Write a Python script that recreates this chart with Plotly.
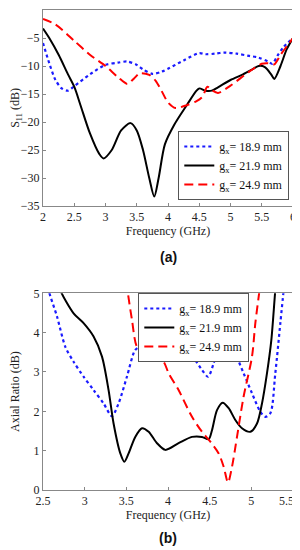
import plotly.graph_objects as go

# ---- (a) S11 data ----
s11_f_189 = [2.0, 2.1, 2.2, 2.3, 2.4, 2.5, 2.75, 3.0, 3.2, 3.35, 3.5, 3.6, 3.75, 3.9, 4.0, 4.25, 4.5, 4.6, 4.75, 4.9, 5.1, 5.3, 5.45, 5.6, 5.67, 5.75, 5.85, 6.0]
s11_v_189 = [-5.9, -9.5, -12.5, -14.0, -14.4, -13.6, -11.5, -9.8, -9.4, -9.2, -9.8, -10.6, -11.4, -11.0, -10.5, -9.0, -7.7, -7.9, -7.8, -7.6, -7.8, -8.2, -8.5, -9.2, -9.6, -8.2, -6.6, -5.0]

s11_f_219 = [2.0, 2.1, 2.25, 2.4, 2.5, 2.6, 2.75, 2.9, 2.97, 3.1, 3.25, 3.4, 3.5, 3.6, 3.7, 3.78, 3.85, 3.95, 4.1, 4.3, 4.45, 4.5, 4.6, 4.7, 4.8, 5.0, 5.2, 5.35, 5.45, 5.55, 5.65, 5.7, 5.8, 5.9, 6.0]
s11_v_219 = [-3.3, -5.0, -8.0, -11.5, -13.7, -17.0, -22.0, -25.7, -26.5, -25.0, -21.5, -20.2, -21.5, -25.0, -30.0, -33.3, -30.0, -24.0, -20.5, -17.0, -14.5, -14.0, -14.4, -14.4, -13.8, -12.5, -11.5, -10.6, -10.0, -10.2, -11.5, -12.3, -10.0, -7.0, -5.0]

s11_f_249 = [2.0, 2.2, 2.5, 2.75, 3.0, 3.2, 3.35, 3.45, 3.55, 3.7, 3.8, 3.9, 4.0, 4.12, 4.3, 4.45, 4.55, 4.63, 4.7, 4.8, 5.0, 5.3, 5.5, 5.6, 5.7, 5.8, 5.9, 6.0]
s11_v_249 = [-1.6, -2.6, -5.5, -8.0, -10.0, -12.0, -13.2, -12.3, -11.3, -11.6, -12.6, -14.5, -16.5, -17.5, -17.0, -16.3, -15.5, -13.7, -14.3, -14.8, -13.5, -11.0, -9.6, -9.5, -9.7, -8.0, -6.5, -5.0]

# ---- (b) Axial ratio data ----
ar_f_189 = [2.55, 2.567, 2.668, 2.768, 2.867, 2.987, 3.107, 3.227, 3.327, 3.407, 3.507, 3.607, 3.667, 3.787, 3.947, 4.127, 4.288, 4.408, 4.48, 4.548, 4.628, 4.708, 4.808, 4.907, 5.008, 5.108, 5.168, 5.228, 5.288, 5.348, 5.388, 5.4]
ar_v_189 = [5.3, 5.08, 4.41, 3.64, 3.26, 2.88, 2.54, 2.20, 1.88, 2.20, 2.88, 3.56, 3.63, 3.47, 3.43, 3.49, 3.39, 3.05, 2.88, 3.22, 3.81, 3.90, 3.47, 2.97, 2.46, 1.99, 1.86, 1.95, 2.97, 4.24, 5.08, 5.3]

ar_f_219 = [2.69, 2.708, 2.867, 2.987, 3.107, 3.208, 3.287, 3.347, 3.428, 3.476, 3.527, 3.607, 3.688, 3.768, 3.868, 3.968, 4.127, 4.288, 4.408, 4.488, 4.528, 4.588, 4.656, 4.728, 4.808, 4.888, 4.988, 5.068, 5.128, 5.188, 5.24, 5.288, 5.3]
ar_v_219 = [5.3, 5.08, 4.49, 4.24, 3.90, 3.39, 2.54, 1.69, 0.93, 0.72, 0.93, 1.35, 1.57, 1.48, 1.19, 1.02, 1.19, 1.35, 1.35, 1.29, 1.52, 2.03, 2.22, 2.08, 1.78, 1.57, 1.48, 1.69, 2.20, 2.97, 3.81, 5.08, 5.3]

ar_f_249 = [3.51, 3.515, 3.568, 3.628, 3.707, 3.827, 3.947, 4.007, 4.127, 4.288, 4.408, 4.508, 4.608, 4.668, 4.72, 4.768, 4.828, 4.907, 5.008, 5.048, 5.098, 5.11]
ar_v_249 = [5.3, 5.08, 4.32, 3.64, 3.52, 3.43, 3.26, 2.97, 2.54, 1.86, 1.48, 1.23, 0.93, 0.59, 0.19, 0.59, 1.35, 2.37, 3.39, 4.24, 5.08, 5.3]

labels = ["g<sub>x</sub>= 18.9 mm", "g<sub>x</sub>= 21.9 mm", "g<sub>x</sub>= 24.9 mm"]
s11_xticks = [2, 2.5, 3, 3.5, 4, 4.5, 5, 5.5, 6]
s11_ticks = [0, -5, -10, -15, -20, -25, -30, -35]
s11_ticktext = ["0", "\u22125", "\u221210", "\u221215", "\u221220", "\u221225", "\u221230", "\u221235"]
ar_xticks = [2.5, 3, 3.5, 4, 4.5, 5]
ar_last_tick = 5.5
ar_yticks = [0, 1, 2, 3, 4, 5]

FONT = "Liberation Serif"
styles = [
    dict(color="#1a1aff", width=2.2, dash="3px,3px"),
    dict(color="#000000", width=2),
    dict(color="#ff0000", width=2, dash="9px,5px"),
]

fig = go.Figure()
for (f, v), st, lab in zip([(s11_f_189, s11_v_189), (s11_f_219, s11_v_219), (s11_f_249, s11_v_249)], styles, labels):
    fig.add_trace(go.Scatter(x=f, y=v, mode="lines", line=dict(shape="spline", smoothing=0.8, **st),
                             name=lab, xaxis="x", yaxis="y", legend="legend"))
for (f, v), st, lab in zip([(ar_f_189, ar_v_189), (ar_f_219, ar_v_219), (ar_f_249, ar_v_249)], styles, labels):
    fig.add_trace(go.Scatter(x=f, y=v, mode="lines", line=dict(shape="spline", smoothing=0.8, **st),
                             name=lab, xaxis="x2", yaxis="y2", legend="legend2"))

axis_common = dict(showgrid=False, zeroline=False, showline=True, mirror=True, linecolor="#888888",
                   linewidth=1, ticks="inside", ticklen=3, tickcolor="#888888", automargin=False,
                   tickfont=dict(family=FONT, size=12, color="#222"))

# page body adds 8px offset; figure is 292x542, screen = figure + 8
OFF = 8
W, H = 300 - OFF, 550 - OFF
# plot area in screen px: left 42.7, right 292.7, top 10, bottom 490
SL, SR, ST, SB = 42.7, 292.7, 10, 490
L, R, T, B = SL - OFF, W - (SR - OFF), ST - OFF, H - (SB - OFF)
PH = SB - ST
PW = SR - SL
def py(spx):
    return (SB - spx) / PH
def pxx(spx):
    return (spx - SL) / PW

legend_common = dict(bgcolor="white", bordercolor="#555", borderwidth=1,
                     font=dict(family=FONT, size=12, color="#111"), tracegroupgap=0, itemwidth=30,
                     traceorder="normal")
fig.update_layout(
    width=W, height=H,
    margin=dict(l=L, r=R, t=T, b=B, autoexpand=False),
    paper_bgcolor="white", plot_bgcolor="white",
    font=dict(family=FONT, size=12, color="#222"),
    xaxis=dict(domain=[0, 1], range=[2, 6], tickvals=s11_xticks, anchor="y",
               title=dict(text="Frequency (GHz)", font=dict(family=FONT, size=12), standoff=0), **axis_common),
    yaxis=dict(domain=[py(206), 1], range=[-35, 0], tickvals=s11_ticks, ticktext=s11_ticktext,
               anchor="x", title=dict(text="S<sub>11</sub> (dB)", font=dict(family=FONT, size=12), standoff=10), **axis_common),
    xaxis2=dict(domain=[0, 1], range=[2.5, 5.5], tickvals=ar_xticks, anchor="y2",
                title=dict(text="Frequency (GHz)", font=dict(family=FONT, size=12), standoff=0), **axis_common),
    yaxis2=dict(domain=[0, py(293.3)], range=[0, 5], tickvals=ar_yticks, anchor="x2",
                title=dict(text="Axial Ratio (dB)", font=dict(family=FONT, size=12), standoff=12), **axis_common),
    legend=dict(x=pxx(289), xanchor="right", y=py(200), yanchor="bottom", **legend_common),
    legend2=dict(x=pxx(138), xanchor="left", y=py(293), yanchor="top", **legend_common),
    showlegend=True,
    annotations=[
        dict(text="<b>(a)</b>", x=0.5, y=py(257), xref="paper", yref="paper", showarrow=False,
             yanchor="middle", font=dict(family="Liberation Sans", size=14, color="#111")),
        dict(text="<b>(b)</b>", x=0.5, y=py(538), xref="paper", yref="paper", showarrow=False,
             yanchor="middle", font=dict(family="Liberation Sans", size=14, color="#111")),
        dict(text=str(ar_last_tick), x=ar_last_tick, y=0, xref="x2", yref="y2", showarrow=False,
             xanchor="right", yanchor="top", xshift=3, yshift=-2, font=dict(family=FONT, size=12, color="#222")),
    ],
)

fig.write_html("out.html")
